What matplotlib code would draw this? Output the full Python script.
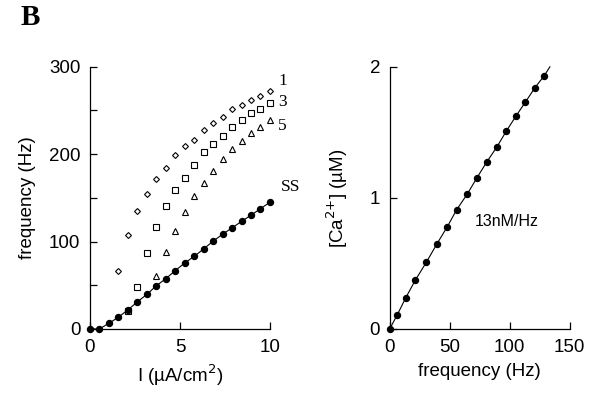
import numpy as np
import matplotlib
matplotlib.use("Agg")
import matplotlib.pyplot as plt

plt.rcParams['font.family'] = ['Liberation Sans', 'DejaVu Sans']

# ---- data: left panel (frequency vs current) ----
I_step = 10 / 19
ss_k = list(range(0, 20))
ss_freq = [0, 0, 6.5, 13.4, 21.8, 31, 39.5, 49.4, 57.5, 66.7, 75.5, 83, 91.6,
           100.4, 108.4, 115.7, 123, 130.2, 137.6, 145]

d1_k = list(range(3, 20))
d1_freq = [66, 107, 135, 155, 171.6, 184, 199, 209.5, 216.5, 228, 235.6, 243,
           251.7, 256.7, 262, 267, 272.4]

d3_k = list(range(4, 20))
d3_freq = [20.7, 48, 87, 117, 140.5, 158.5, 173, 187.7, 202.6, 211.8, 221,
           231.4, 239.4, 246.8, 251.7, 258.6]

d5_k = list(range(7, 20))
d5_freq = [61, 88, 112, 134, 152, 167, 181, 194, 205.7, 215, 224, 231.4, 239.4]

# ---- data: right panel (Ca vs frequency) ----
ca_freq = [0, 6.4, 13.3, 21.4, 30.6, 39.4, 48, 55.8, 64.7, 72.8, 81.1, 89.4,
           97.2, 105.3, 113, 121, 128.6]
ca_conc = [0, 0.11, 0.237, 0.373, 0.51, 0.65, 0.78, 0.91, 1.03, 1.155, 1.277,
           1.39, 1.51, 1.625, 1.73, 1.84, 1.93]
# line through the points, extended to the top of the axis
line_freq = ca_freq + [133.5]
line_conc = ca_conc + [2.0]

series_labels = ["1", "3", "5", "SS"]

fig = plt.figure(figsize=(6.08, 3.93), dpi=100)
axL = fig.add_axes([0.148, 0.163, 0.296, 0.667])
axR = fig.add_axes([0.641, 0.163, 0.296, 0.667])

def style(ax):
    for s in ['top', 'right']:
        ax.spines[s].set_visible(False)
    for s in ['left', 'bottom']:
        ax.spines[s].set_linewidth(0.9)
    ax.tick_params(direction='in', length=5, width=0.9, labelsize=13.5, pad=7)
    ax.tick_params(which='minor', direction='in', length=5, width=0.9)

I_ss = np.array(ss_k) * I_step
axL.plot(I_ss, ss_freq, '-', color='black', lw=0.8, clip_on=False, zorder=3)
axL.plot(I_ss, ss_freq, 'o', color='black', ms=4.3, clip_on=False, zorder=4)
axL.plot(np.array(d1_k) * I_step, d1_freq, 'D', mfc='white', mec='black',
         ms=3.0, mew=0.8, clip_on=False, zorder=2)
axL.plot(np.array(d3_k) * I_step, d3_freq, 's', mfc='white', mec='black',
         ms=3.8, mew=0.8, clip_on=False, zorder=2)
axL.plot(np.array(d5_k) * I_step, d5_freq, '^', mfc='white', mec='black',
         ms=4.2, mew=0.8, clip_on=False, zorder=2)

axL.set_xlim(0, 10)
axL.set_ylim(0, 300)
axL.set_xticks([0, 5, 10])
axL.set_yticks([0, 100, 200, 300])
axL.set_yticks([50, 150, 250], minor=True)
style(axL)
axL.set_xlabel('I (\u00b5A/cm$^2$)', fontsize=13.5, labelpad=5)
axL.set_ylabel('frequency (Hz)', fontsize=13.5, labelpad=9)

lab_pos = [(10.5, 284), (10.45, 260), (10.45, 232), (10.6, 163)]
for lab, (x, y) in zip(series_labels, lab_pos):
    axL.text(x, y, lab, family='Liberation Serif', fontsize=12.5,
             ha='left', va='center', clip_on=False)

axR.plot(line_freq, line_conc, '-', color='black', lw=0.8, clip_on=False)
axR.plot(ca_freq, ca_conc, 'o', color='black', ms=4.3, clip_on=False, zorder=4)
axR.set_xlim(0, 150)
axR.set_ylim(0, 2)
axR.set_xticks([0, 50, 100, 150])
axR.set_yticks([0, 1, 2])
style(axR)
axR.set_xlabel('frequency (Hz)', fontsize=13.5, labelpad=5)
axR.set_ylabel('[Ca$^{2{+}}$] (\u00b5M)', fontsize=13.5, labelpad=14)
axR.text(0.65, 0.41, '13nM/Hz', transform=axR.transAxes, fontsize=11.5,
         ha='center', va='center')

fig.text(0.033, 0.955, 'B', family='Liberation Serif', fontweight='bold',
         fontsize=21, ha='left', va='center')

fig.savefig('out.png', dpi=100)
